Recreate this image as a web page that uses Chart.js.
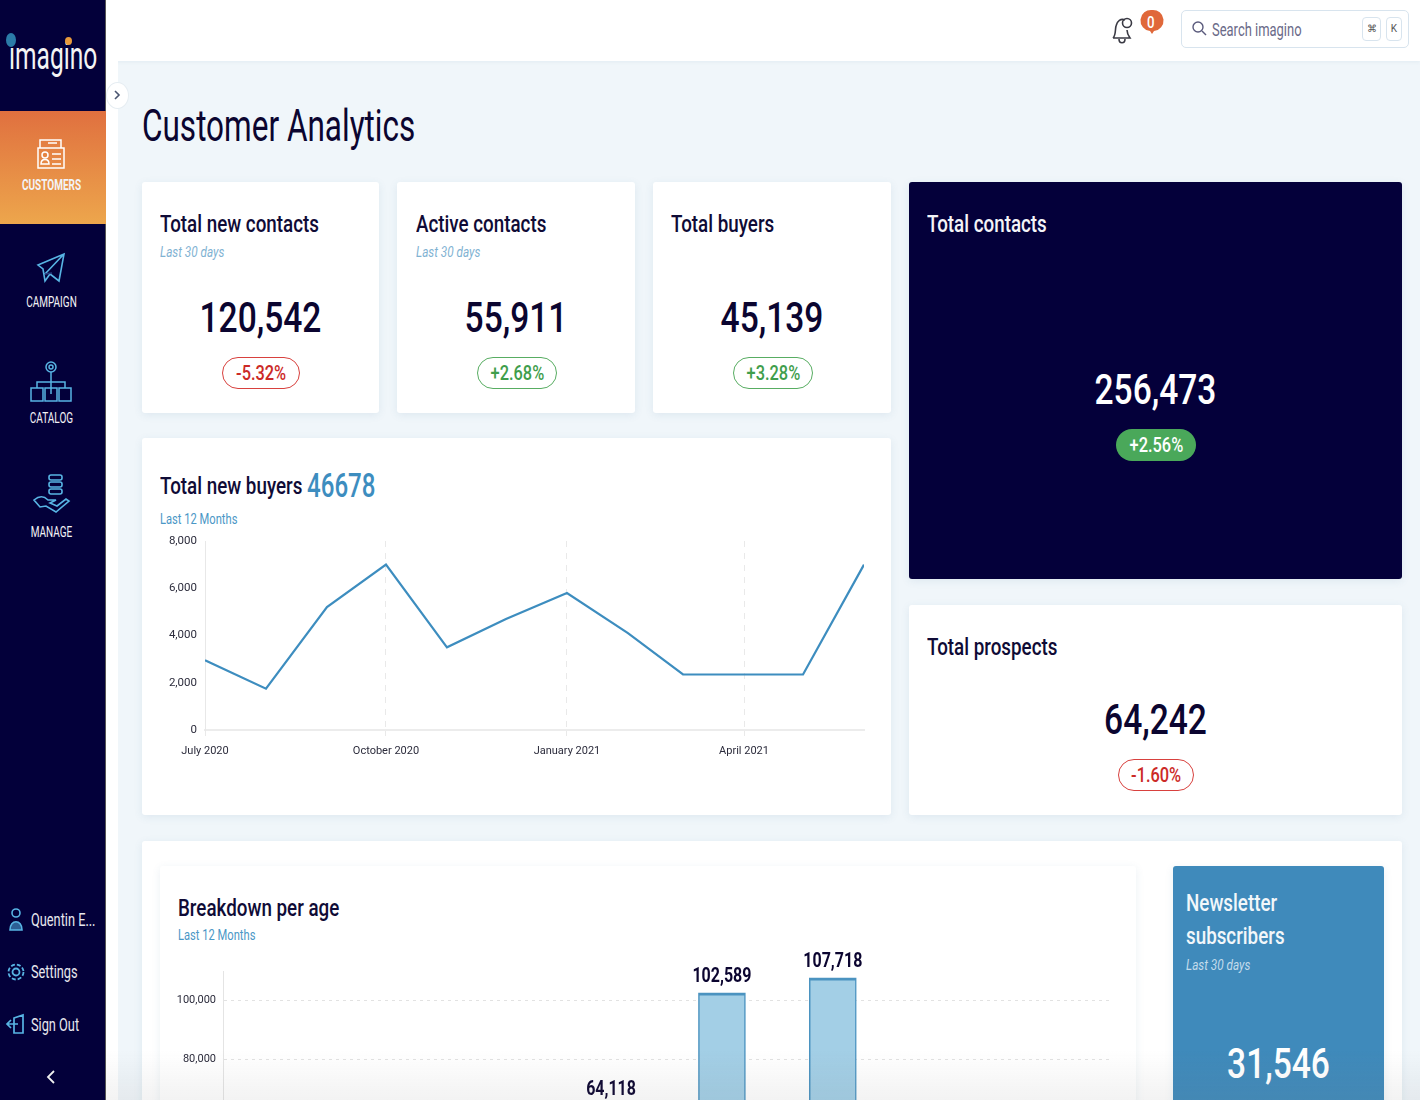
<!DOCTYPE html>
<html>
<head>
<meta charset="utf-8">
<title>Customer Analytics</title>
<script src="https://cdn.jsdelivr.net/npm/chart.js@4"></script>
<style>
html,body{margin:0;padding:0;width:1420px;height:1100px;overflow:hidden;background:#f0f6fa;}
body{font-family:Roboto,sans-serif;color:#0b0530;position:relative;}
.a{position:absolute;}
.t{position:absolute;white-space:nowrap;transform-origin:left center;transform:scaleX(.78);}
.card{position:absolute;background:#fff;border-radius:3px;box-shadow:0 2px 8px rgba(60,110,150,.10);}
.t.ttl{font-size:23.5px;font-weight:500;color:#0f0b36;transform:scaleX(.80);}
.sub{font-size:14px;font-style:italic;color:#7fb2d2;transform:scaleX(.84);}
.sub2{font-size:14.5px;color:#4a97c6;transform:scaleX(.77);}
.t.num{font-size:43px;font-weight:500;color:#0b0530;text-align:center;transform-origin:center;}
.pill{position:absolute;height:30px;line-height:30px;border-radius:16px;text-align:center;font-size:21px;font-weight:500;background:#fff;}
.pill span{display:inline-block;transform:scaleX(.78);}
.red{border:1px solid #d8413e;color:#cc2a27;}
.green{border:1px solid #58ad62;color:#3f9e4c;}
.t.nav{color:#f3f3f6;font-size:14.5px;text-align:center;left:0;width:103px;transform-origin:center;transform:scaleX(.69);}
.t.foot{color:#e8e8ee;font-size:18.5px;left:31px;transform:scaleX(.69);}
canvas{position:absolute;display:block;}
svg{position:absolute;overflow:visible;}
</style>
</head>
<body>

<!-- header and strip -->
<div class="a" style="left:106px;top:0;width:1314px;height:61px;background:#fff;box-shadow:0 1px 4px rgba(60,110,150,.08);"></div>
<div class="a" style="left:106px;top:0;width:12px;height:1100px;background:#fff;"></div>

<svg style="left:1108px;top:12px" width="32" height="36" fill="none" stroke="#3a3a44" stroke-width="1.6">
  <path d="M5 26c3-3 2-8 3-12 1-5 5-8 9-6M5 26h17c-2-3-3-5-3-8M11 27c0 5 6 5 6 0"/>
  <circle cx="19" cy="11" r="4.5"/>
</svg>
<svg style="left:1143px;top:10px" width="18" height="26"><path d="M9 0a8.5 8.5 0 0 1 2 21l-2 3-2-3a8.5 8.5 0 0 1 2-21z" fill="#e0683a"/></svg>
<div class="t" style="left:1147px;top:12px;color:#fff;font-size:17px;font-weight:500;">0</div>
<div class="a" style="left:1181px;top:10px;width:226px;height:36px;border:1px solid #d8e4ee;border-radius:5px;background:#fff;"></div>
<svg style="left:1192px;top:21px" width="16" height="16" fill="none" stroke="#5a5a7c" stroke-width="1.4"><circle cx="6" cy="6" r="5"/><path d="M10 10l4 4"/></svg>
<div class="t" style="left:1212px;top:19px;font-size:18px;color:#6a6a88;transform:scaleX(.72);">Search imagino</div>
<div class="a" style="left:1362px;top:17px;width:17px;height:22px;border:1px solid #d8e4ee;border-radius:4px;text-align:center;font-size:10px;line-height:22px;color:#555;">⌘</div>
<div class="a" style="left:1386px;top:17px;width:14px;height:22px;border:1px solid #d8e4ee;border-radius:4px;text-align:center;font-size:10px;line-height:22px;color:#555;">K</div>

<!-- sidebar -->
<div class="a" style="left:0;top:0;width:106px;height:1100px;background:#03003a;border-right:1px solid #555;box-sizing:border-box;"></div>
<div class="t" style="left:9px;top:33px;font-size:39px;color:#f4f4f4;transform:scaleX(.63);">imagino</div>
<div class="a" style="left:6px;top:33px;width:10px;height:14px;border-radius:50%;background:#2b7ba8;"></div>
<div class="a" style="left:65px;top:37px;width:7px;height:8px;border-radius:50%;background:#e89a3c;"></div>
<div class="a" style="left:0;top:111px;width:106px;height:113px;background:linear-gradient(#e0703f,#eda64c);"></div>
<svg style="left:36px;top:138px" width="32" height="34" fill="none" stroke="#fff" stroke-width="1.5">
  <path d="M4 10V2h21v8"/><rect x="2" y="10" width="26" height="20"/><path d="M12 5h9M16 16h9M16 21h9M16 26h9"/><circle cx="9" cy="17" r="3"/><path d="M5 26c0-6 8-6 8 0z"/>
</svg>
<div class="t nav" style="top:177px;font-weight:700;">CUSTOMERS</div>
<svg style="left:37px;top:252px" width="30" height="36" fill="none" stroke="#58b4e4" stroke-width="1.6">
  <path d="M1 13L27 2l-5 27-9-7-5 7-2-12zM27 2L8 22"/><path d="M8 22l7-1" stroke="#2c3f80"/>
</svg>
<div class="t nav" style="top:294px;">CAMPAIGN</div>
<svg style="left:30px;top:358px" width="44" height="46" fill="none" stroke="#58b4e4" stroke-width="1.5">
  <circle cx="21" cy="9" r="5"/><circle cx="21" cy="9" r="2"/><path d="M21 14v22M7 30v-6h28v6"/>
  <rect x="1" y="30" width="12" height="13"/><rect x="15" y="30" width="12" height="13"/><rect x="29" y="30" width="12" height="13"/>
</svg>
<div class="t nav" style="top:410px;">CATALOG</div>
<svg style="left:33px;top:473px" width="38" height="44" fill="none" stroke="#58b4e4" stroke-width="1.6">
  <rect x="16" y="2" width="13" height="5" rx="2"/><rect x="16" y="9" width="13" height="5" rx="2"/><rect x="16" y="16" width="13" height="5" rx="2"/>
  <path d="M1 27c6-5 10-4 14 0h8l-6 3 7 3 9-7 3 2-13 11-10-6-6 1z"/>
</svg>
<div class="t nav" style="top:524px;">MANAGE</div>
<svg style="left:8px;top:908px" width="18" height="24" fill="none" stroke="#58b4e4" stroke-width="1.6"><circle cx="8" cy="5" r="4"/><path d="M2 22c0-11 12-11 12 0z" fill="#2c5f95"/></svg>
<div class="t foot" style="top:909px;">Quentin E...</div>
<svg style="left:7px;top:961px" width="20" height="22" fill="none" stroke="#58b4e4" stroke-width="1.8"><circle cx="9" cy="11" r="3.5"/><circle cx="9" cy="11" r="7.5" stroke-dasharray="4 2"/></svg>
<div class="t foot" style="top:961px;">Settings</div>
<svg style="left:6px;top:1013px" width="20" height="22" fill="none" stroke="#58b4e4" stroke-width="1.7"><path d="M8 5l9-3v18H8zM12 11H1M5 7l-4 4 4 4"/></svg>
<div class="t foot" style="top:1014px;">Sign Out</div>
<svg style="left:46px;top:1070px" width="10" height="15" fill="none" stroke="#f0f0f0" stroke-width="1.8"><path d="M8 1L2 7l6 6"/></svg>

<div class="a" style="left:106px;top:82px;width:21px;height:25px;border-radius:50%;background:#fff;border:1px solid #e6edf2;"></div>
<svg style="left:114px;top:90px" width="6" height="10" fill="none" stroke="#4a5570" stroke-width="1.6"><path d="M1 1l4 4-4 4"/></svg>

<!-- title -->
<div class="t" style="left:142px;top:99px;font-size:45px;color:#0b0530;transform:scaleX(.70);">Customer Analytics</div>

<!-- kpi row -->
<div class="card" style="left:142px;top:182px;width:237px;height:231px;"></div>
<div class="t ttl" style="left:160px;top:210px;">Total new contacts</div>
<div class="t sub" style="left:160px;top:244px;">Last 30 days</div>
<div class="t num" style="left:142px;width:237px;top:292px;">120,542</div>
<div class="pill red" style="left:222px;top:357px;width:76px;"><span>-5.32%</span></div>

<div class="card" style="left:397px;top:182px;width:238px;height:231px;"></div>
<div class="t ttl" style="left:416px;top:210px;">Active contacts</div>
<div class="t sub" style="left:416px;top:244px;">Last 30 days</div>
<div class="t num" style="left:397px;width:238px;top:292px;">55,911</div>
<div class="pill green" style="left:477px;top:357px;width:78px;"><span>+2.68%</span></div>

<div class="card" style="left:653px;top:182px;width:238px;height:231px;"></div>
<div class="t ttl" style="left:671px;top:210px;">Total buyers</div>
<div class="t num" style="left:653px;width:238px;top:292px;">45,139</div>
<div class="pill green" style="left:733px;top:357px;width:78px;"><span>+3.28%</span></div>

<div class="card" style="left:909px;top:182px;width:493px;height:397px;background:#04003a;"></div>
<div class="t ttl" style="left:927px;top:210px;color:#f4f4f8;">Total contacts</div>
<div class="t num" style="left:909px;width:493px;top:364px;color:#fff;">256,473</div>
<div class="pill" style="left:1116px;top:429px;width:80px;height:32px;line-height:32px;background:#4aa85a;color:#fff;"><span>+2.56%</span></div>

<div class="card" style="left:909px;top:605px;width:493px;height:210px;"></div>
<div class="t ttl" style="left:927px;top:633px;">Total prospects</div>
<div class="t num" style="left:909px;width:493px;top:694px;">64,242</div>
<div class="pill red" style="left:1118px;top:759px;width:74px;"><span>-1.60%</span></div>

<!-- new buyers card -->
<div class="card" style="left:142px;top:438px;width:749px;height:377px;"></div>
<div class="t ttl" style="left:160px;top:472px;">Total new buyers</div>
<div class="t" style="left:307px;top:466px;font-size:33px;font-weight:500;color:#3d8dbf;transform:scaleX(.73);">46678</div>
<div class="t sub2" style="left:160px;top:511px;">Last 12 Months</div>
<canvas id="buyers-canvas" width="749" height="240" style="left:142px;top:530px;"></canvas>

<!-- lower panel -->
<div class="card" style="left:142px;top:841px;width:1260px;height:300px;"></div>
<div class="card" style="left:160px;top:866px;width:976px;height:280px;"></div>
<div class="t ttl" style="left:178px;top:894px;">Breakdown per age</div>
<div class="t sub2" style="left:178px;top:927px;">Last 12 Months</div>
<canvas id="age-canvas" width="976" height="380" style="left:160px;top:941px;"></canvas>

<div class="card" style="left:1173px;top:866px;width:211px;height:280px;background:#3f8abb;"></div>
<div class="t ttl" style="left:1186px;top:889px;color:#f2f7fa;">Newsletter</div>
<div class="t ttl" style="left:1186px;top:922px;color:#f2f7fa;">subscribers</div>
<div class="t sub" style="left:1186px;top:957px;color:#c4dcec;">Last 30 days</div>
<div class="t num" style="left:1173px;width:211px;top:1038px;color:#fff;">31,546</div>

<div class="a" style="left:106px;top:1050px;width:1314px;height:50px;background:linear-gradient(rgba(120,120,120,0),rgba(120,120,120,.09));"></div>

<script>
const chartFont = 'Roboto, sans-serif';

// new buyers, one point per month, x is days since 1 July 2020
const buyerDays = [0, 31, 62, 92, 123, 153, 184, 215, 243, 274, 304, 335];
const buyerValues = [2950, 1750, 5200, 7000, 3500, 4700, 5800, 4100, 2350, 2350, 2350, 7000];
const buyerTickDays = [0, 92, 184, 274];
const buyerTickLabels = ['July 2020', 'October 2020', 'January 2021', 'April 2021'];
const buyerYTicks = [0, 2000, 4000, 6000, 8000];

// only three bars reach into the photographed part, the rest stay empty
const ageCategories = ['', '', '', '', '', '', '', ''];
const ageValues = [null, null, null, 64118, 102589, 107718, null, null];
const ageYTicks = [0, 20000, 40000, 60000, 80000, 100000];

const barLabels = {
   id: 'barLabels',
   afterDatasetsDraw(chart) {
      const c = chart.ctx;
      const bars = chart.getDatasetMeta(0).data;
      c.font = 'bold 20px ' + chartFont;
      c.fillStyle = '#0b0530';
      c.textAlign = 'center';
      c.textBaseline = 'middle';
      bars.forEach((bar, i) => {
         if (ageValues[i] == null) return;
         c.save();
         c.translate(bar.x, bar.y - 16);
         c.scale(0.8, 1);
         c.fillText(ageValues[i].toLocaleString('en-US'), 0, 0);
         c.restore();
      });
   }
};

new Chart(document.getElementById('buyers-canvas').getContext('2d'), {
   type: 'line',
   data: {
      datasets: [{
         data: buyerDays.map((d, i) => ({ x: d, y: buyerValues[i] })),
         borderColor: '#3d8dbf',
         borderWidth: 2.2,
         pointRadius: 0,
         tension: 0,
         fill: false
      }]
   },
   options: {
      responsive: false,
      animation: false,
      layout: { padding: { top: 11, right: 27, bottom: 0, left: 0 } },
      plugins: { legend: { display: false }, tooltip: { enabled: false } },
      scales: {
         x: {
            type: 'linear',
            min: 0,
            max: 335,
            afterBuildTicks: s => { s.ticks = buyerTickDays.map(v => ({ value: v })); },
            afterFit: s => { s.height = 40; },
            ticks: {
               autoSkip: false,
               maxRotation: 0,
               padding: 9,
               color: '#2c2c3c',
               font: { family: chartFont, size: 11 },
               callback: v => buyerTickLabels[buyerTickDays.indexOf(v)]
            },
            grid: { color: '#e9e9e9', tickLength: 6 },
            border: { color: '#ececec', width: 2, dash: [6, 6] }
         },
         y: {
            min: 0,
            max: 8000,
            afterBuildTicks: s => { s.ticks = buyerYTicks.map(v => ({ value: v })); },
            afterFit: s => { s.width = 63; },
            ticks: {
               padding: 0,
               color: '#2c2c3c',
               font: { family: chartFont, size: 11.5 },
               callback: v => v.toLocaleString('en-US')
            },
            grid: { display: false },
            border: { color: '#e8e8e8', width: 1 }
         }
      }
   }
});

new Chart(document.getElementById('age-canvas').getContext('2d'), {
   type: 'bar',
   data: {
      labels: ageCategories,
      datasets: [{
         data: ageValues,
         backgroundColor: '#a3cfe6',
         borderColor: '#4b93c0',
         borderWidth: { top: 3, left: 1.5, right: 1.5, bottom: 0 },
         barThickness: 47
      }]
   },
   options: {
      responsive: false,
      animation: false,
      layout: { padding: { top: 30, right: 26, bottom: 0, left: 0 } },
      plugins: { legend: { display: false }, tooltip: { enabled: false } },
      scales: {
         x: {
            afterFit: s => { s.height = 26; },
            ticks: { display: false },
            grid: { display: false },
            border: { color: '#e8e8e8' }
         },
         y: {
            min: 0,
            max: 110000,
            afterBuildTicks: s => { s.ticks = ageYTicks.map(v => ({ value: v })); },
            afterFit: s => { s.width = 63; },
            ticks: {
               padding: 7,
               color: '#2c2c3c',
               font: { family: chartFont, size: 11 },
               callback: v => v.toLocaleString('en-US')
            },
            grid: { color: '#e2e2e2', drawTicks: false },
            border: { color: '#e4e4e4', dash: [3, 4] }
         }
      }
   },
   plugins: [barLabels]
});
</script>
</body>
</html>
